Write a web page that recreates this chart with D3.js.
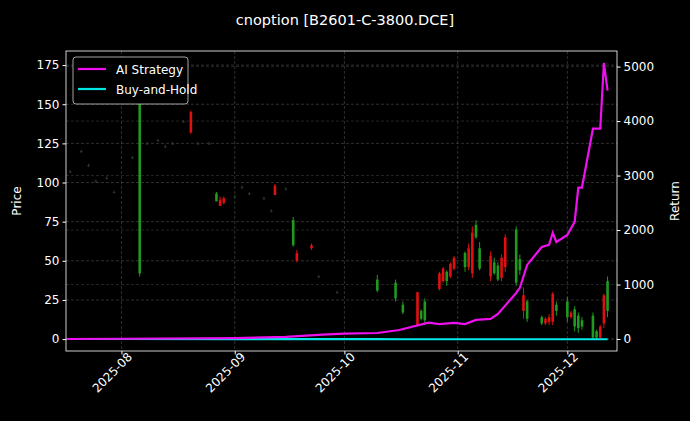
<!DOCTYPE html>
<html>
<head>
<meta charset="utf-8">
<script src="https://cdn.jsdelivr.net/npm/d3@7"></script>
<style>
body { margin: 0; background: #000; }
text { font-family: "DejaVu Sans", sans-serif; }
</style>
</head>
<body>
<svg id="chart" width="690" height="421"></svg>
<script>
// candles: date, open, high, low, close
var candleDates = ["2025-07-18","2025-07-21","2025-07-23","2025-07-25","2025-07-28","2025-07-30","2025-08-04","2025-08-06","2025-08-08","2025-08-11","2025-08-13","2025-08-15","2025-08-18","2025-08-20","2025-08-22","2025-08-25","2025-08-27","2025-08-28","2025-08-29","2025-09-01","2025-09-03","2025-09-05","2025-09-09","2025-09-11","2025-09-12","2025-09-15","2025-09-17","2025-09-18","2025-09-22","2025-09-24","2025-09-29","2025-10-10","2025-10-15","2025-10-17","2025-10-21","2025-10-22","2025-10-23","2025-10-27","2025-10-28","2025-10-29","2025-10-30","2025-10-31","2025-11-03","2025-11-04","2025-11-05","2025-11-06","2025-11-07","2025-11-10","2025-11-11","2025-11-12","2025-11-13","2025-11-14","2025-11-17","2025-11-18","2025-11-19","2025-11-20","2025-11-24","2025-11-25","2025-11-26","2025-11-27","2025-11-28","2025-12-01","2025-12-02","2025-12-03","2025-12-04","2025-12-05","2025-12-08","2025-12-09","2025-12-10","2025-12-11","2025-12-12"];
var opens  = [107,120,111,101,103,94,116,42,125,127,123,125,139,145,125,125,88,89,90,91,97,93,90,82,98,96,60,55,60,40,30,31,26,17,30,13,12,42,45,37,48,52,46,58,68,65,45,53,42,38,52,65,36,44,28,13,10,13,14,29,18,14,17,8,7,8,1,1,8,28,18];
var highs  = [108,121,112,102,104,95,117,165,126,128,124,126,140,146,126,126,94,91,91,92,98,94,91,83,99,97,78,57,61,41,31,41,38,24,30,19,26,43,46,44,49,53,56,61,72,76,62,56,52,49,54,67,72,54,33,25,15,14,16,30,24,27,18,21,17,14,17,6,9,29,40];
var lows   = [106,119,110,100,102,93,115,40,124,126,122,124,138,131,124,124,88,86,86,90,96,92,89,81,92,95,59,49,57,39,29,30,24,16,8,12,9,31,36,34,39,44,43,44,39,64,44,37,41,37,37,43,34,41,13,11,9,9,9,9,15,11,13,5,4,6,0,0,0,7,14];
var closes = [107,120,111,101,103,94,116,160,125,127,123,125,139,132,125,125,93,85,87,91,97,93,90,82,92,96,76,50,58,40,30,38,36,22,9,18,24,32,37,43,40,45,55,46,42,73,58,40,49,47,39,46,70,51,18,24,14,10,11,11,22,24,14,19,15,12,15,5,1,10,37];

var retDates = ["2025-07-17","2025-08-01","2025-09-01","2025-09-15","2025-09-25","2025-10-01","2025-10-10","2025-10-16","2025-10-24","2025-10-27","2025-10-31","2025-11-03","2025-11-06","2025-11-10","2025-11-12","2025-11-17","2025-11-18","2025-11-20","2025-11-24","2025-11-26","2025-11-27","2025-11-28","2025-12-01","2025-12-03","2025-12-04","2025-12-05","2025-12-08","2025-12-10","2025-12-11","2025-12-12"];
var aiReturn = [0,5,15,40,80,100,110,165,300,275,295,275,350,370,460,845,940,1360,1690,1730,1950,1780,1910,2150,2780,2780,3860,3860,5070,4560];
var bhReturn = [0,0,-1,-2,-3,-3,-3,-4,-4,-4,-4,-4,-4,-4,-4,-4,-4,-4,-4,-4,-4,-4,-4,-4,-4,-4,-4,-4,-4,-4];

var priceTicks = [0,25,50,75,100,125,150,175];
var retTicks = [0,1000,2000,3000,4000,5000];

var parse = d3.timeParse("%Y-%m-%d");
var svg = d3.select("#chart");
var L = 66, R = 617, T = 51, B = 351;

svg.append("rect").attr("width",690).attr("height",421).attr("fill","#000");

var x = d3.scaleTime()
    .domain([new Date(2025,6,16,20), new Date(2025,11,14,14)])
    .range([L, R]);
var y = d3.scaleLinear().domain([-7.6, 184]).range([B, T]);
var y2 = d3.scaleLinear().domain([-220, 5286]).range([B, T]);

var g = svg.append("g");

// grid
var monthTicks = [new Date(2025,7,1), new Date(2025,8,1), new Date(2025,9,1), new Date(2025,10,1), new Date(2025,11,1)];
monthTicks.forEach(function(d) {
    g.append("line").attr("x1",x(d)).attr("x2",x(d)).attr("y1",T).attr("y2",B)
        .attr("stroke","#444").attr("stroke-dasharray","3,2").attr("stroke-width",0.7);
});
priceTicks.forEach(function(v) {
    g.append("line").attr("x1",L).attr("x2",R).attr("y1",y(v)).attr("y2",y(v))
        .attr("stroke","#444").attr("stroke-dasharray","3,2").attr("stroke-width",0.7);
});
retTicks.forEach(function(v) {
    g.append("line").attr("x1",L).attr("x2",R).attr("y1",y2(v)).attr("y2",y2(v))
        .attr("stroke","#333").attr("stroke-dasharray","3,2").attr("stroke-width",0.7);
});

// candles
candleDates.forEach(function(d, i) {
    var cx = x(parse(d));
    var col = closes[i] >= opens[i] ? "#1f9a1f" : "#e01010";
    if (highs[i] - lows[i] < 3) col = closes[i] >= opens[i] ? "#2a3a2a" : "#4a1515";
    g.append("line").attr("x1",cx).attr("x2",cx).attr("y1",y(highs[i])).attr("y2",y(lows[i]))
        .attr("stroke",col).attr("stroke-width",1);
    var top = y(Math.max(opens[i],closes[i])), bot = y(Math.min(opens[i],closes[i]));
    g.append("rect").attr("x",cx-1.3).attr("width",2.6).attr("y",top).attr("height",Math.max(1,bot-top))
        .attr("fill",col);
});

// return lines
var line = d3.line().x(function(d){ return x(d[0]); }).y(function(d){ return y2(d[1]); });
g.append("path").datum(retDates.map(function(d,i){ return [parse(d), bhReturn[i]]; }))
    .attr("d",line).attr("fill","none").attr("stroke","#00e5e5").attr("stroke-width",2.2);
g.append("path").datum(retDates.map(function(d,i){ return [parse(d), aiReturn[i]]; }))
    .attr("d",line).attr("fill","none").attr("stroke","#ee10ee").attr("stroke-width",2.2);

// frame
svg.append("rect").attr("x",L).attr("y",T).attr("width",R-L).attr("height",B-T)
    .attr("fill","none").attr("stroke","#fff").attr("stroke-width",0.8);

// axes
var xAxis = svg.append("g").attr("transform","translate(0,"+B+")")
    .call(d3.axisBottom(x).tickValues(monthTicks).tickFormat(d3.timeFormat("%Y-%m")).tickSize(3.5));
xAxis.selectAll("text").attr("text-anchor","end").attr("dx","3").attr("dy","6")
    .attr("transform","rotate(-45)");
var yAxis = svg.append("g").attr("transform","translate("+L+",0)")
    .call(d3.axisLeft(y).tickValues(priceTicks).tickSize(3.5));
var y2Axis = svg.append("g").attr("transform","translate("+R+",0)")
    .call(d3.axisRight(y2).tickValues(retTicks).tickFormat(d3.format("d")).tickSize(3.5));
[xAxis, yAxis, y2Axis].forEach(function(a) {
    a.select(".domain").remove();
    a.selectAll("line").attr("stroke","#fff");
    a.selectAll("text").attr("fill","#fff").attr("font-size",12).style("font-family","DejaVu Sans");
});

svg.append("text").attr("x",345).attr("y",25).attr("text-anchor","middle")
    .attr("fill","#fff").attr("font-size",14.5).text("cnoption [B2601-C-3800.DCE]");
svg.append("text").attr("transform","translate(21,201) rotate(-90)").attr("text-anchor","middle")
    .attr("fill","#fff").attr("font-size",12).text("Price");
svg.append("text").attr("transform","translate(679,201) rotate(-90)").attr("text-anchor","middle")
    .attr("fill","#fff").attr("font-size",12).text("Return");

// legend
var lg = svg.append("g").attr("transform","translate(73,57)");
lg.append("rect").attr("width",115).attr("height",47).attr("rx",3)
    .attr("fill","#000").attr("stroke","#ccc").attr("stroke-width",0.8);
[["AI Strategy","#ee10ee"],["Buy-and-Hold","#00e5e5"]].forEach(function(e,i) {
    lg.append("line").attr("x1",5).attr("x2",33).attr("y1",12+i*20).attr("y2",12+i*20)
        .attr("stroke",e[1]).attr("stroke-width",2.2);
    lg.append("text").attr("x",43).attr("y",16.5+i*20).attr("fill","#fff").attr("font-size",12).text(e[0]);
});
</script>
</body>
</html>
